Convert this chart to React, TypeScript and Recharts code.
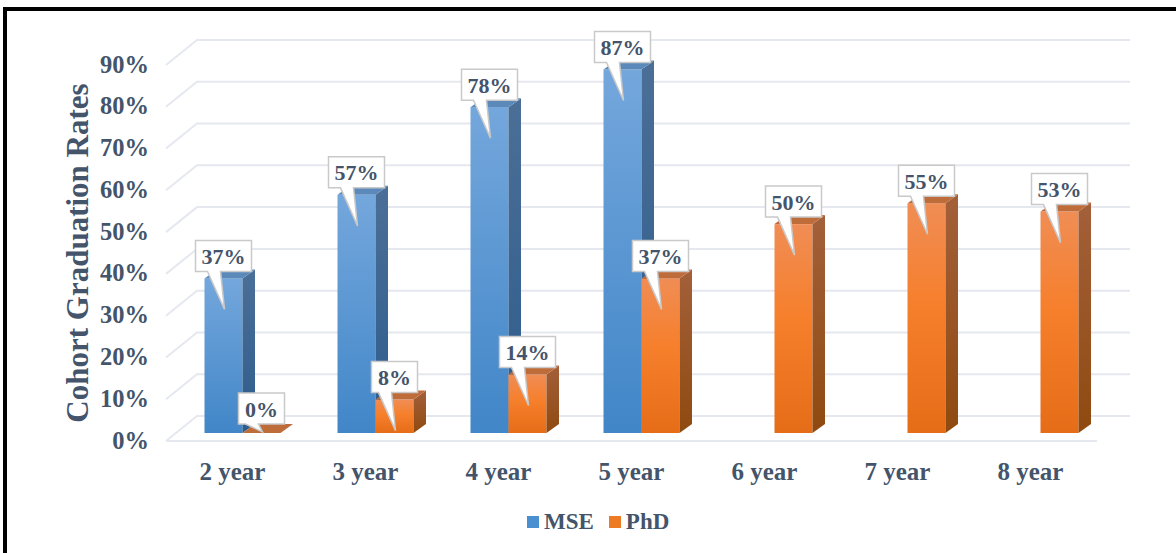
import { BarChart, Bar, XAxis, YAxis, CartesianGrid, LabelList, Legend, ReferenceLine } from 'recharts'

const years = ['2 year', '3 year', '4 year', '5 year', '6 year', '7 year', '8 year']
const mseRates = [37, 57, 78, 87, null, null, null]
const phdRates = [0, 8, 14, 37, 50, 55, 53]
const rateTicks = [0, 10, 20, 30, 40, 50, 60, 70, 80, 90]

const rows = years.map((year, i) => ({ year, MSE: mseRates[i], PhD: phdRates[i] }))

const TEXT = '#44546a'
const GRID = '#e6e8f0'
const SERIF = '"Liberation Serif", serif'

// offsets of the bars inside the fake 3D box
const BAR_DX = 9.5
const BAR_DY = -8
const DEPTH_X = 12.5
const DEPTH_Y = 9
const WALL_DX = 31
const WALL_DY = -25

const PALETTE: Record<string, { top: string; swatch: string }> = {
  MSE: { top: '#5a89ba', swatch: '#4a8fd0' },
  PhD: { top: '#bf6c3b', swatch: '#ef7a24' },
}

function Bar3D(props: any) {
  const { x, y, width, height, value, name } = props
  if (value == null) return null
  const key = name === 'PhD' ? 'phd' : 'mse'
  const left = x + BAR_DX
  const right = left + width
  const top = y + BAR_DY
  const bottom = top + height
  return (
    <g>
      {height > 0 && <rect x={left} y={top} width={width} height={height} fill={`url(#${key}Front)`} />}
      <path
        d={`M${right},${top} l${DEPTH_X},${-DEPTH_Y} V${bottom - DEPTH_Y} L${right},${bottom} Z`}
        fill={`url(#${key}Side)`}
      />
      <path
        d={`M${left},${top} H${right} l${DEPTH_X},${-DEPTH_Y} H${left + DEPTH_X} Z`}
        fill={PALETTE[name].top}
      />
    </g>
  )
}

function Callout(props: any) {
  const { x, y, width, value } = props
  if (value == null) return null
  const text = `${value}%`
  const w = text.length > 2 ? 56 : 46
  const cx = x + BAR_DX + width / 2
  const barTop = y + BAR_DY
  const boxTop = barTop - (value === 0 ? 40 : 38)
  const boxBottom = boxTop + 31
  const tipY = value === 0 ? barTop - 1 : barTop + 31
  return (
    <g>
      <path
        d={`M${cx - w / 2},${boxTop} h${w} V${boxBottom} H${cx - 3} L${cx + 1},${tipY} L${cx - 16},${boxBottom} H${cx - w / 2} Z`}
        fill="#fff"
        stroke="#c9c9c9"
        strokeWidth={1.5}
      />
      <text
        x={cx}
        y={boxTop + 16}
        textAnchor="middle"
        dominantBaseline="central"
        fontFamily={SERIF}
        fontWeight="bold"
        fontSize={22}
        fill={TEXT}
      >
        {text}
      </text>
    </g>
  )
}

// wall gridline plus the short diagonal running down to the front edge
function WallLine(props: any) {
  const { x1, x2, y1 } = props
  return (
    <polyline
      points={`${x1},${y1} ${x1 + WALL_DX},${y1 + WALL_DY} ${x2 + WALL_DX + 2},${y1 + WALL_DY}`}
      fill="none"
      stroke={GRID}
      strokeWidth={2}
    />
  )
}

function RateTick(props: any) {
  const { x, y, payload } = props
  return (
    <text x={x} y={y - 1} textAnchor="end" dominantBaseline="central" fontFamily={SERIF} fontWeight="bold" fontSize={24.5} fill={TEXT}>
      {payload.value}%
    </text>
  )
}

function LegendRow(props: any) {
  return (
    <div style={{ display: 'flex', alignItems: 'center', fontFamily: SERIF, fontWeight: 'bold', fontSize: 23, color: TEXT }}>
      {props.payload.map((item: any) => (
        <span key={item.value} style={{ display: 'flex', alignItems: 'center', marginRight: 15 }}>
          <span style={{ width: 12, height: 12, marginRight: 5, background: PALETTE[item.value].swatch }} />
          {item.value}
        </span>
      ))}
    </div>
  )
}

export default function App() {
  return (
    <div
      style={{
        position: 'fixed',
        left: 0,
        top: 0,
        width: 1176,
        height: 553,
        background: '#fff',
      }}
    >
      <div
        style={{
          position: 'absolute',
          left: 3,
          top: 7,
          right: 0,
          bottom: 0,
          borderLeft: '4px solid #000',
          borderTop: '4px solid #000',
        }}
      />
      <BarChart
        width={1176}
        height={553}
        data={rows}
        barSize={38}
        barGap={0}
        margin={{ top: 65, right: 79, bottom: 62, left: 0 }}
        style={{ position: 'absolute', left: 0, top: 0 }}
      >
        <defs>
          <linearGradient id="mseFront" x1="0" y1="0" x2="0" y2="1">
            <stop offset="0" stopColor="#74a7dc" />
            <stop offset="1" stopColor="#4186c8" />
          </linearGradient>
          <linearGradient id="mseSide" x1="0" y1="0" x2="0" y2="1">
            <stop offset="0" stopColor="#4b6f97" />
            <stop offset="1" stopColor="#2d5c8d" />
          </linearGradient>
          <linearGradient id="phdFront" x1="0" y1="0" x2="0" y2="1">
            <stop offset="0" stopColor="#f08d55" />
            <stop offset="0.45" stopColor="#f67f2b" />
            <stop offset="1" stopColor="#e66d18" />
          </linearGradient>
          <linearGradient id="phdSide" x1="0" y1="0" x2="0" y2="1">
            <stop offset="0" stopColor="#a3603a" />
            <stop offset="1" stopColor="#8f4a10" />
          </linearGradient>
        </defs>
        <CartesianGrid vertical={false} horizontal={WallLine} />
        <ReferenceLine y={0} stroke={GRID} strokeWidth={2} />
        <XAxis
          dataKey="year"
          axisLine={false}
          tickLine={false}
          height={50}
          tickMargin={15}
          interval={0}
          tick={{ fontFamily: SERIF, fontWeight: 'bold', fontSize: 25, fill: TEXT }}
        />
        <YAxis
          width={166}
          domain={[0, 90]}
          ticks={rateTicks}
          interval={0}
          axisLine={false}
          tickLine={false}
          tickMargin={11}
          tick={RateTick}
          label={{
            value: 'Cohort Graduation Rates',
            angle: -90,
            position: 'center',
            dx: -6,
            fontFamily: SERIF,
            fontWeight: 'bold',
            fontSize: 31,
            fill: TEXT,
          }}
        />
        <Legend
          verticalAlign="middle"
          align="center"
          content={LegendRow}
          wrapperStyle={{ top: 509, left: 527, width: 240, height: 28 }}
        />
        <Bar dataKey="MSE" name="MSE" shape={Bar3D} isAnimationActive={false}>
          <LabelList dataKey="MSE" content={Callout} />
        </Bar>
        <Bar dataKey="PhD" name="PhD" shape={Bar3D} isAnimationActive={false}>
          <LabelList dataKey="PhD" content={Callout} />
        </Bar>
      </BarChart>
    </div>
  )
}
